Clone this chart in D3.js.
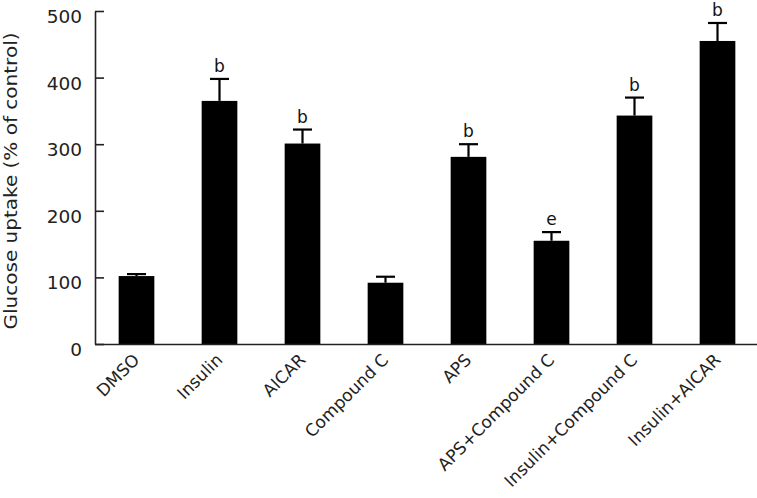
<!DOCTYPE html>
<html><head><meta charset="utf-8">
<script src="https://cdn.jsdelivr.net/npm/d3@7"></script>
<style>body{margin:0;background:#fff}</style>
</head><body>
<svg id="chart" width="757" height="498"></svg>
<script>
const categories = ["DMSO","Insulin","AICAR","Compound C","APS","APS+Compound C","Insulin+Compound C","Insulin+AICAR"];
const values = [102, 365, 301, 92, 281, 155, 343, 455];
const errors = [3, 33, 21, 9, 19, 13, 27, 27];
const marks = ["", "b", "b", "", "b", "e", "b", "b"];
const yTicks = [0, 100, 200, 300, 400, 500];

const svg = d3.select("#chart");
const font = "DejaVu Sans, Verdana, sans-serif";
const x0 = 95, x1 = 759, yTop = 11, yBot = 344;
const x = d3.scaleBand().domain(categories).range([x0, x1]).paddingInner(0.57).paddingOuter(0.285);
const y = d3.scaleLinear().domain([0, 500]).range([yBot, yTop]);

// bars
svg.selectAll("rect.bar").data(categories).join("rect")
  .attr("x", d => x(d)).attr("width", x.bandwidth())
  .attr("y", (d,i) => y(values[i])).attr("height", (d,i) => yBot - y(values[i]))
  .attr("fill", "#000");

// error bars
const cap = 19;
const eg = svg.append("g").attr("stroke", "#000").attr("stroke-width", 2.2);
categories.forEach((c, i) => {
  const cx = x(c) + x.bandwidth()/2;
  eg.append("line").attr("x1", cx).attr("x2", cx).attr("y1", y(values[i])).attr("y2", y(values[i]+errors[i]));
  eg.append("line").attr("x1", cx - cap/2).attr("x2", cx + cap/2).attr("y1", y(values[i]+errors[i])).attr("y2", y(values[i]+errors[i]));
});

// significance marks
svg.selectAll("text.mark").data(categories).join("text")
  .attr("x", d => x(d) + x.bandwidth()/2)
  .attr("y", (d,i) => y(values[i]+errors[i]) - 7)
  .attr("text-anchor", "middle").attr("font-family", font).attr("font-size", 17).attr("fill", "#111")
  .text((d,i) => marks[i]);

// axes
const yAxis = d3.axisLeft(y).tickValues(yTicks).tickSizeInner(-9).tickSizeOuter(0).tickPadding(13);
const gy = svg.append("g").attr("transform", `translate(${x0},0)`).call(yAxis);
gy.select(".domain").attr("stroke", "#222").attr("stroke-width", 1.6);
gy.selectAll(".tick line").attr("stroke", "#222").attr("stroke-width", 1.6);
gy.selectAll(".tick text").attr("font-family", font).attr("font-size", 18.5).attr("fill", "#222")
  .attr("dy", "0.62em");

const xAxis = d3.axisBottom(x).tickSize(0).tickPadding(0);
const gx = svg.append("g").attr("transform", `translate(0,${yBot})`).call(xAxis);
gx.select(".domain").attr("d", `M${x0},0.5H757`).attr("stroke", "#222").attr("stroke-width", 1.6);
gx.selectAll(".tick text")
  .attr("font-family", font).attr("font-size", 17).attr("fill", "#222")
  .attr("text-anchor", "end").attr("dy", null).attr("y", 0)
  .attr("transform", "translate(4,17) rotate(-45)");

// y label
svg.append("text")
  .attr("transform", `translate(17,181) rotate(-90)`)
  .attr("text-anchor", "middle").attr("font-family", font).attr("font-size", 18).attr("fill", "#222")
  .attr("textLength", 297).attr("lengthAdjust", "spacingAndGlyphs")
  .text("Glucose uptake (% of control)");
</script>
</body></html>
